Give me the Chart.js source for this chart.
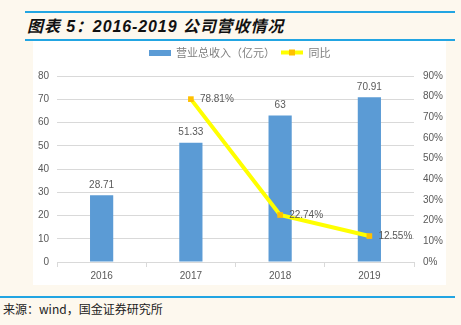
<!DOCTYPE html>
<html>
<head>
<meta charset="utf-8">
<script src="https://cdn.jsdelivr.net/npm/chart.js@4.4.0/dist/chart.umd.min.js"></script>
<style>
body { margin: 0; width: 461px; height: 325px; background: #fdf8ee; position: relative; overflow: hidden; }
.rule { position: absolute; height: 2px; background: #22a5e2; }
#title { position: absolute; left: 27px; top: 13px; font: italic bold 16px "Liberation Sans", "Noto Sans CJK SC", sans-serif; color: #111; letter-spacing: 0.9px; white-space: nowrap; }
#box { position: absolute; left: 33px; top: 41px; width: 413px; height: 244px; background: #fff; }
#src { position: absolute; left: 3px; top: 300px; font: 12px "Noto Sans CJK SC", sans-serif; color: #222; white-space: nowrap; }
</style>
</head>
<body>
<div class="rule" style="left:25px;top:11px;width:430px"></div>
<div id="title">图表 5：2016-2019 公司营收情况</div>
<div class="rule" style="left:25px;top:39px;width:430px"></div>
<div id="box"><canvas id="grafico" width="413" height="244"></canvas></div>
<div class="rule" style="left:0;top:296px;width:455px"></div>
<div id="src">来源：wind，国金证券研究所</div>

<script>
// dados do gráfico
var anos = ['2016', '2017', '2018', '2019'];
var receita = [28.71, 51.33, 63, 70.91];      // 营业总收入（亿元）
var crescimento = [null, 78.81, 22.74, 12.55]; // 同比 (%)
var ticksEsq = [0, 10, 20, 30, 40, 50, 60, 70, 80];
var ticksDir = [0, 10, 20, 30, 40, 50, 60, 70, 80, 90];

var azul = '#5b9bd5';
var amarelo = '#ffff00';
var laranja = '#ffc000';

// ícones da legenda
function iconeBarra() {
    var c = document.createElement('canvas');
    c.width = 22; c.height = 6;
    var g = c.getContext('2d');
    g.fillStyle = azul;
    g.fillRect(0, 0, 22, 6);
    return c;
}
function iconeLinha() {
    var c = document.createElement('canvas');
    c.width = 22; c.height = 8;
    var g = c.getContext('2d');
    g.fillStyle = amarelo;
    g.fillRect(0, 2, 22, 4);
    g.fillStyle = laranja;
    g.fillRect(8, 1, 6, 6);
    return c;
}

// espaço extra abaixo da legenda
var espacoLegenda = {
    id: 'espacoLegenda',
    afterInit: function (chart) {
        var l = chart.legend;
        var fitOriginal = l.fit;
        l.fit = function () {
            fitOriginal.call(this);
            this.height += 8;
        };
    }
};

// rótulos de valor
var rotulos = {
    id: 'rotulos',
    afterDatasetsDraw: function (chart) {
        var ctx = chart.ctx;
        ctx.save();
        ctx.font = '10px "Liberation Sans", sans-serif';
        ctx.fillStyle = '#595959';
        var barras = chart.getDatasetMeta(0);
        ctx.textAlign = 'center';
        ctx.textBaseline = 'bottom';
        barras.data.forEach(function (el, i) {
            ctx.fillText(String(receita[i]), el.x, el.y - 5);
        });
        var linha = chart.getDatasetMeta(1);
        ctx.textAlign = 'left';
        ctx.textBaseline = 'middle';
        linha.data.forEach(function (el, i) {
            if (crescimento[i] === null) return;
            ctx.fillText(crescimento[i].toFixed(2) + '%', el.x + 9, el.y);
        });
        ctx.restore();
    }
};

new Chart(document.getElementById('grafico').getContext('2d'), {
    type: 'bar',
    data: {
        labels: anos,
        datasets: [
            {
                label: '营业总收入（亿元）',
                data: receita,
                backgroundColor: azul,
                barPercentage: 0.26,
                categoryPercentage: 1,
                yAxisID: 'y',
                order: 2
            },
            {
                type: 'line',
                label: '同比',
                data: crescimento,
                borderColor: amarelo,
                backgroundColor: laranja,
                borderWidth: 4,
                pointStyle: 'rect',
                pointRadius: 4,
                pointBorderWidth: 0,
                pointBackgroundColor: laranja,
                tension: 0,
                yAxisID: 'y1',
                order: 1
            }
        ]
    },
    options: {
        responsive: false,
        animation: false,
        layout: { padding: { top: 0, bottom: 0 } },
        plugins: {
            tooltip: { enabled: false },
            legend: {
                labels: {
                    usePointStyle: true,
                    pointStyleWidth: 22,
                    color: '#7f7f7f',
                    padding: 6,
                    font: { size: 11, family: '"Noto Sans CJK SC", sans-serif' },
                    generateLabels: function () {
                        return [
                            { text: '营业总收入（亿元）', pointStyle: iconeBarra(), fontColor: '#7f7f7f', datasetIndex: 0, lineWidth: 0 },
                            { text: '同比', pointStyle: iconeLinha(), fontColor: '#7f7f7f', datasetIndex: 1, lineWidth: 0 }
                        ];
                    }
                }
            }
        },
        scales: {
            x: {
                offset: true,
                grid: { offset: true, drawOnChartArea: false, color: '#d9d9d9', tickLength: 5 },
                border: { color: '#d9d9d9' },
                ticks: { color: '#595959', font: { size: 10, family: '"Liberation Sans", sans-serif' }, padding: 3 }
            },
            y: {
                position: 'left',
                min: 0, max: 80,
                afterBuildTicks: function (s) { s.ticks = ticksEsq.map(function (v) { return { value: v }; }); },
                grid: { color: '#d9d9d9', drawTicks: false },
                border: { display: false },
                ticks: { color: '#595959', padding: 8, font: { size: 10, family: '"Liberation Sans", sans-serif' } },
                afterFit: function (s) { s.width = 24; }
            },
            y1: {
                position: 'right',
                min: 0, max: 90,
                afterBuildTicks: function (s) { s.ticks = ticksDir.map(function (v) { return { value: v }; }); },
                grid: { display: false, drawTicks: false },
                border: { display: false },
                ticks: {
                    color: '#595959', padding: 9,
                    font: { size: 10, family: '"Liberation Sans", sans-serif' },
                    callback: function (v) { return v + '%'; }
                },
                afterFit: function (s) { s.width = 32; }
            }
        }
    },
    plugins: [espacoLegenda, rotulos]
});
</script>
</body>
</html>
